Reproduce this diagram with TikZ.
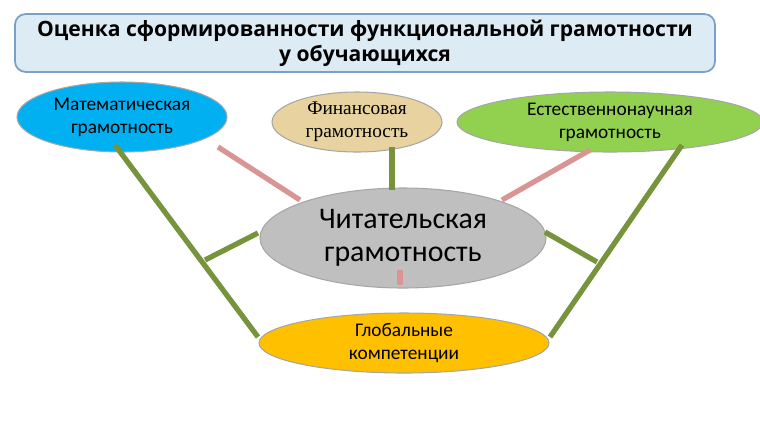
\documentclass[tikz,border=0pt]{standalone}
\usepackage{fontspec}
\setmainfont{Carlito}
\newfontfamily\serifrm{Liberation Serif}
\newfontfamily\headfont{Open Sans}
\usetikzlibrary{shapes.geometric,positioning}
\definecolor{titlefill}{RGB}{221,236,244}
\definecolor{titledraw}{RGB}{120,160,200}
\definecolor{mathblue}{RGB}{0,176,240}
\definecolor{finpaper}{RGB}{232,211,160}
\definecolor{natgreen}{RGB}{146,208,80}
\definecolor{readgray}{RGB}{191,191,191}
\definecolor{globalgold}{RGB}{255,192,0}
\definecolor{olivelink}{RGB}{119,147,60}
\definecolor{pinklink}{RGB}{217,149,148}
\begin{document}
\begin{tikzpicture}[x=0.02cm,y=-0.02cm,
    area/.style={ellipse, draw=gray!70, line width=0.6pt, inner sep=0pt, align=center},
    olive/.style={olivelink, line width=3pt},
    pink/.style={pinklink, line width=3pt}
]
\useasboundingbox (0,0) rectangle (760,427);

% Title
\node[rectangle, rounded corners=6pt, draw=titledraw, line width=1pt, fill=titlefill,
      minimum width=700*0.02cm, minimum height=57*0.02cm, align=center,
      font=\headfont\bfseries\fontsize{12}{14}\selectfont] (title) at (365,43)
      {Оценка сформированности функциональной грамотности\\у обучающихся};

% Areas
\node[area, fill=mathblue, minimum width=210*0.02cm, minimum height=70*0.02cm, font=\fontsize{11}{13}\selectfont] (math) at (122,117) {Математическая\\грамотность};
\node[area, fill=finpaper, minimum width=170*0.02cm, minimum height=60*0.02cm, font=\serifrm\fontsize{11}{13}\selectfont] (fin) at (357,122) {Финансовая\\грамотность};
\node[area, fill=natgreen, minimum width=306*0.02cm, minimum height=60*0.02cm, font=\fontsize{11}{13}\selectfont] (nat) at (610,122) {Естественнонаучная\\грамотность};
\node[area, fill=readgray, minimum width=286*0.02cm, minimum height=100*0.02cm, font=\fontsize{17}{19}\selectfont] (read) at (403,238) {Читательская\\грамотность};
\node[area, fill=globalgold, minimum width=290*0.02cm, minimum height=60*0.02cm, font=\fontsize{11}{13}\selectfont] (glob) at (404,343) {Глобальные\\компетенции};

% Link ends
\coordinate (mathfoot) at (115,145);
\coordinate (globleft) at (258,337);
\coordinate (natfoot) at (682,145);
\coordinate (globright) at (550,337);
\coordinate (finfoot) at (392,147);
\coordinate (readtop) at (392,190);
\coordinate (leftarm) at (205,260);
\coordinate (readleft) at (258,233);
\coordinate (readright) at (545,232);
\coordinate (rightarm) at (597,262);
\coordinate (mathpink) at (218,147);
\coordinate (readpinkl) at (300,200);
\coordinate (natpink) at (590,150);
\coordinate (readpinkr) at (502,200);
\coordinate (readbot) at (400,270);
\coordinate (globtop) at (400,285);

% Links
\draw[olive] (mathfoot) -- (globleft);
\draw[olive] (natfoot) -- (globright);
\draw[olive] (finfoot) -- (readtop);
\draw[olive] (leftarm) -- (readleft);
\draw[olive] (readright) -- (rightarm);
\draw[pink] (mathpink) -- (readpinkl);
\draw[pink] (natpink) -- (readpinkr);
\draw[pink] (readbot) -- (globtop);

\end{tikzpicture}
\end{document}
